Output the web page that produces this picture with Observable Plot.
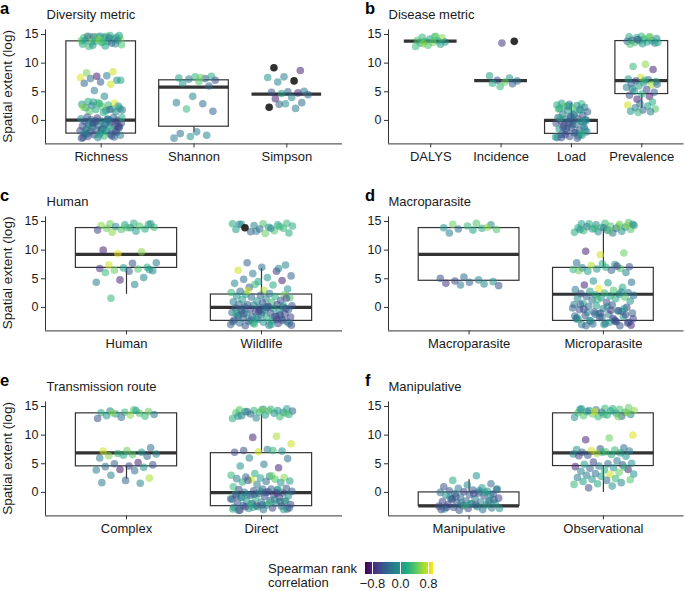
<!DOCTYPE html>
<html><head><meta charset="utf-8">
<script src="https://cdn.jsdelivr.net/npm/d3@7"></script>
<script src="https://cdn.jsdelivr.net/npm/@observablehq/plot@0.6"></script>
<style>
body{margin:0;background:#fff;font-family:"Liberation Sans",Arial,sans-serif;}
#root{position:relative;width:685px;height:591px;overflow:hidden;background:#fff;}
#root > svg, #root > div{position:absolute;}
</style></head><body><div id="root"></div><script>
// ---------- DATA: [spatial extent (log), Spearman rank correlation]; null = no correlation ----------
const diversityCats = ["Richness", "Shannon", "Simpson"];
const richness = [[14.7,0.4],[14.6,0.5],[14.5,0.1],[14.7,-0.1],[14.4,0.3],[14.8,0.2],[14.6,-0.4],[14.3,0.6],[14.5,0.0],[14.7,-0.3],[14.2,0.2],[14.6,0.3],[13.9,0.4],[13.8,0.1],[13.7,0.5],[14.0,-0.2],[13.6,0.3],[13.9,0.0],[13.5,-0.5],[13.8,0.2],[13.2,0.4],[13.0,0.1],[12.9,0.3],[13.4,-0.1],[14.1,0.6],[13.3,0.2],[14.4,-0.2],[13.1,0.0],[14.8,0.1],[13.7,0.3],
[8.3,0.55],[8.5,0.8],[7.7,-0.85],[7.5,0.85],[7.8,-0.2],[7.3,-0.3],[7.0,0.0],[6.7,-0.45],[6.5,-0.35],[6.3,0.8],[5.2,-0.2],[7.0,0.15],
[4.2,-0.1],[3.3,0.2],[3.0,0.85],[3.1,0.4],[2.8,0.0],[2.7,0.3],[2.6,-0.2],[2.5,0.1],[2.4,0.5],[2.2,-0.1],[2.0,0.3],[1.9,0.2],[1.8,-0.3],[1.7,0.0],[1.6,0.4],[1.5,-0.1],[2.9,0.2],[2.3,0.6],[1.9,-0.4],[3.2,0.1],[2.1,0.0],[1.4,0.2],
[0.6,-0.5],[0.5,-0.3],[0.4,-0.6],[0.3,-0.1],[0.2,-0.5],[0.1,-0.4],[0.0,-0.6],[-0.1,-0.2],[-0.2,-0.5],[-0.3,-0.7],[-0.4,-0.3],[-0.5,-0.5],[-0.6,0.0],[-0.7,-0.4],[-0.8,-0.6],[-0.9,-0.2],[-1.0,-0.5],[-1.1,0.1],[-1.2,-0.4],[-1.3,-0.6],[-1.4,-0.3],[-1.5,-0.5],[-1.6,0.2],[-1.7,-0.4],[-1.8,-0.5],[-1.9,-0.1],[-2.0,-0.6],[-2.1,-0.3],[-2.2,-0.5],[-2.3,0.0],[-2.4,-0.4],[-2.5,-0.6],[-2.6,-0.2],[-2.7,0.3],[-2.8,-0.5],[-2.9,-0.3],[-3.0,-0.1],[-3.1,-0.4],[0.2,-0.2],[-0.4,0.1],[-1.0,-0.7],[-1.6,-0.5],[-2.2,-0.2],[-2.7,-0.5],[-0.1,-0.5],[0.5,0.2],[-0.7,-0.3],[-1.3,0.0],[-1.9,-0.6],[-2.5,0.2],[-3.0,-0.6],[0.0,-0.3],[-0.5,-0.6],[-1.1,-0.5],[-1.8,0.1],[-2.4,-0.3]];
const shannon = [[7.7,0.2],[7.6,0.3],[7.4,0.1],[7.3,-0.4],[7.2,-0.2],[7.0,-0.5],[6.8,0.4],[6.5,0.0],[6.0,-0.3],[4.2,-0.1],[3.1,-0.2],[2.9,-0.3],[2.0,0.3],[1.6,-0.4],[-2.0,-0.2],[-2.3,-0.3],[-2.6,-0.1],[-2.8,0.0],[-3.1,-0.2],[7.5,0.5]];
const simpson = [[9.2,null],[8.7,-0.8],[7.6,-0.2],[7.5,0.0],[6.9,null],[6.7,-0.1],[5.1,-0.2],[5.0,-0.4],[4.9,-0.5],[4.8,-0.7],[4.7,0.1],[4.5,-0.3],[4.0,-0.1],[3.8,-0.8],[3.1,-0.3],[2.9,0.0],[2.3,null],[2.1,-0.2],[2.8,-0.4]];
// box stats per category: [lower whisker, q1, median, q3, upper whisker]
const diversityStats = [[-2.3,-2.3,0.05,13.8,13.8],[-2.05,-1.1,5.8,7.0,7.0],[4.6,4.6,4.6,4.6,4.6]];

const diseaseCats = ["DALYS", "Incidence", "Load", "Prevalence"];
const dalys = [[14.6,0.5],[14.5,0.3],[14.4,0.6],[14.2,0.1],[14.0,0.4],[13.9,0.2],[13.8,0.3],[13.7,0.0],[13.6,0.5],[13.5,0.2],[13.3,0.1],[13.1,0.4],[12.9,0.3],[14.7,0.4],[13.4,0.6]];
const incidence = [[13.8,null],[13.5,-0.7],[7.8,0.1],[7.4,0.0],[7.0,-0.5],[6.9,-0.3],[6.7,0.5],[6.5,0.2],[6.4,-0.4],[5.9,0.3]];
const load = [[3.0,0.1],[2.9,0.3],[2.8,-0.1],[2.7,0.2],[2.6,0.0],[2.4,0.5],[2.3,-0.2],[2.2,0.4],[2.1,0.1],[1.9,-0.3],[1.7,0.0],[1.5,-0.4],[1.3,0.2],[1.1,-0.2],[0.9,-0.5],[0.7,0.0],[0.5,-0.4],[0.3,-0.6],[0.2,-0.2],[0.1,-0.5],[0.0,-0.3],[-0.1,-0.6],[-0.2,0.1],[-0.3,-0.4],[-0.5,-0.5],[-0.7,-0.2],[-0.9,-0.6],[-1.1,-0.3],[-1.3,-0.5],[-1.5,0.0],[-1.7,-0.4],[-1.9,-0.6],[-2.0,-0.2],[-2.2,-0.5],[-2.4,-0.3],[-2.6,0.1],[-2.8,-0.5],[-3.0,-0.2],[-3.1,-0.4],[-2.5,-0.6],[-1.6,-0.1],[-0.8,-0.4],[0.4,0.2],[1.8,0.1],[2.5,-0.1],[-2.9,0.0],[-2.1,-0.4],[-1.2,-0.6],[-0.4,-0.2],[0.6,-0.5],[2.0,0.3],[-2.7,-0.3],[-1.4,-0.4],[0.0,0.0],[1.0,-0.3],[-3.0,-0.5],[-2.3,0.2],[-0.6,-0.5]];
const prevalence = [[14.7,0.3],[14.6,0.2],[14.5,0.4],[14.4,0.1],[14.3,-0.1],[14.2,0.3],[14.0,-0.4],[13.9,0.0],[13.9,0.2],[13.8,-0.3],[13.7,0.1],[13.6,0.3],[13.5,-0.2],[13.4,0.0],[13.3,0.4],[14.6,0.5],[14.1,-0.5],[13.6,0.2],
[9.8,0.6],[9.4,0.3],[8.9,-0.8],[7.5,0.8],[7.2,0.0],[7.1,-0.3],[6.9,-0.5],[6.8,0.2],[6.6,0.0],[6.4,-0.4],[6.2,0.7],[6.0,0.1],[5.8,-0.2],[5.4,-0.6],[5.1,0.0],[4.9,-0.4],[4.6,0.2],[4.4,-0.5],[4.2,-0.8],[3.7,-0.8],[6.3,-0.3],[7.0,0.3],[5.5,-0.1],
[3.2,0.2],[2.9,-0.3],[2.7,0.8],[2.5,0.1],[2.2,-0.2],[2.0,0.4],[1.8,-0.4],[1.6,0.0],[1.5,-0.2],[1.4,0.3]];
const diseaseStats = [[13.85,13.85,13.85,13.85,13.85],[6.95,6.95,6.95,6.95,6.95],[-2.35,-2.35,0.0,0.05,3.0],[2.1,4.6,6.95,13.85,13.85]];

const humanCats = ["Human", "Wildlife"];
const human = [[14.7,0.2],[14.6,0.5],[14.5,0.3],[14.4,0.1],[14.3,0.6],[14.2,0.4],[14.1,-0.1],[14.0,0.3],[13.9,0.0],[13.8,0.5],[13.7,0.2],[13.6,0.4],[13.5,-0.6],[13.3,0.1],[13.1,0.6],[14.6,0.0],[13.9,0.4],
[10.0,-0.8],[9.7,0.6],[9.4,0.9],[7.8,-0.2],[7.7,-0.5],[7.4,0.8],[7.0,0.2],[6.9,0.1],[6.8,-0.7],[6.7,0.4],[6.5,0.5],[6.4,-0.1],[6.3,-0.4],[6.1,0.3],[5.2,-0.1],[4.8,-0.8],[4.4,-0.2],[4.0,-0.1],[1.6,0.3],[6.6,0.0]];
const wildlife = [[14.7,0.3],[14.6,0.4],[14.5,-0.2],[14.4,0.1],[14.3,-0.1],[14.2,0.2],[14.0,0.0],[13.9,null],[13.8,0.3],[13.7,-0.3],[13.6,0.1],[13.4,0.4],[13.2,-0.4],[13.0,0.2],[12.9,0.5],[14.5,0.0],[14.1,0.3],[13.3,-0.2],[14.6,0.2],[13.8,-0.1],
[7.8,-0.4],[7.4,-0.1],[7.0,-0.3],[6.5,0.8],[6.3,-0.7],[5.9,-0.2],[5.5,-0.4],[5.2,0.0],[4.9,-0.3],[4.7,-0.8],[4.5,0.1],[4.2,-0.1],[3.9,0.2],[3.5,-0.4],[3.2,0.0],[3.0,0.7],[2.8,-0.3],[6.8,-0.1],[4.0,0.3],
[2.6,0.3],[2.4,-0.2],[2.3,0.1],[2.2,0.5],[2.1,-0.4],[2.0,0.0],[1.9,0.2],[1.8,-0.3],[1.7,0.4],[1.5,-0.1],[1.4,0.1],[1.2,-0.5],[1.1,0.0],[1.0,-0.2],[0.9,0.3],[2.9,0.8],[1.6,-0.6],
[0.8,-0.5],[0.6,-0.3],[0.5,-0.6],[0.4,-0.2],[0.3,-0.5],[0.2,-0.7],[0.1,-0.4],[0.0,-0.6],[0.0,-0.2],[-0.1,-0.5],[-0.2,0.0],[-0.3,-0.6],[-0.4,-0.4],[-0.5,-0.2],[-0.6,-0.5],[-0.7,0.1],[-0.8,-0.6],[-0.9,-0.3],[-1.0,-0.5],[-1.1,-0.1],[-1.2,-0.6],[-1.3,-0.4],[-1.4,0.0],[-1.5,-0.5],[-1.6,-0.3],[-1.7,-0.6],[-1.8,0.2],[-1.9,-0.4],[-2.0,-0.5],[-2.1,-0.2],[-2.2,-0.6],[-2.3,0.1],[-2.4,-0.4],[-2.5,-0.5],[-2.6,0.0],[-2.7,-0.3],[-2.8,-0.6],[-2.9,0.3],[-3.0,-0.4],[-3.1,-0.2],[-3.2,-0.5],[0.3,0.1],[-0.4,-0.7],[-1.0,0.2],[-1.6,-0.5],[-2.2,-0.3],[-2.8,-0.1],[0.1,-0.3],[-0.6,-0.4],[-1.3,-0.6],[-1.9,0.0],[-2.5,-0.4],[-3.0,0.1],[0.5,-0.4],[-0.2,-0.5],[-0.9,-0.1],[-1.5,-0.3],[-2.1,-0.6],[-2.7,0.2],[-3.1,-0.5],[0.0,-0.4],[-1.1,-0.4],[-2.3,-0.5],[-0.7,-0.6]];
const humanStats = [[2.3,6.9,9.25,13.85,13.85],[-2.35,-2.35,0.0,2.25,6.8]];

const parasiteCats = ["Macroparasite", "Microparasite"];
const macroparasite = [[14.7,0.4],[14.5,0.5],[14.4,-0.1],[14.2,0.3],[13.9,0.0],[13.8,0.2],[13.7,-0.3],[13.6,0.4],[13.5,0.1],[13.0,-0.2],[14.0,0.6],
[5.3,-0.3],[5.1,-0.5],[4.8,-0.1],[4.6,-0.6],[4.5,0.0],[4.4,-0.4],[4.2,-0.7],[4.1,-0.1],[3.9,-0.2],[3.8,-0.5]];
const microparasite = [[14.8,0.4],[14.7,0.3],[14.6,0.1],[14.5,0.5],[14.4,-0.1],[14.3,0.2],[14.2,0.4],[14.1,-0.3],[14.0,0.0],[14.0,0.3],[13.9,0.2],[13.8,-0.4],[13.7,0.1],[13.6,0.4],[13.5,-0.2],[13.4,0.3],[13.3,0.0],[13.2,-0.1],[13.1,0.2],[13.0,-0.3],[14.6,0.2],[14.3,0.6],[13.9,-0.2],[13.6,0.0],[14.1,0.5],[13.8,0.3],[14.5,-0.1],[13.4,0.4],
[9.8,-0.8],[9.5,0.5],[9.2,0.8],[7.8,-0.3],[7.5,0.0],[7.3,0.7],[7.1,-0.5],[7.0,0.2],[6.9,-0.2],[6.8,0.4],[6.7,0.0],[6.6,0.3],[6.5,-0.4],[6.3,0.1],[6.1,-0.1],[7.6,0.2],[6.4,0.5],[7.2,-0.6],
[4.6,0.0],[4.4,-0.3],[4.3,0.1],[3.9,-0.8],[3.5,0.2],[3.3,0.9],[3.1,-0.2],[3.0,0.4],
[2.8,0.1],[2.6,-0.2],[2.5,0.3],[2.4,-0.5],[2.3,0.0],[2.2,0.2],[2.1,-0.3],[2.0,0.1],[1.9,-0.4],[1.8,0.4],[1.7,0.0],[1.6,-0.1],[1.5,0.2],[1.3,-0.3],[1.1,0.0],[0.9,-0.5],[0.7,0.1],[2.7,-0.1],[1.4,0.3],[0.5,-0.2],
[0.4,-0.5],[0.2,-0.3],[0.0,-0.6],[-0.2,-0.2],[-0.4,-0.5],[-0.6,0.0],[-0.8,-0.6],[-1.0,-0.4],[-1.2,-0.2],[-1.4,-0.5],[-1.6,0.1],[-1.8,-0.6],[-2.0,-0.3],[-2.2,-0.5],[-2.4,0.0],[-2.6,-0.4],[-2.8,-0.6],[-3.0,-0.2],[-3.2,-0.5],[0.3,0.1],[-0.1,-0.4],[-0.5,-0.7],[-0.9,-0.1],[-1.3,-0.6],[-1.7,-0.3],[-2.1,0.2],[-2.5,-0.5],[-2.9,-0.3],[-3.1,-0.8],[0.1,-0.2],[-0.3,-0.6],[-0.7,-0.3],[-1.1,0.0],[-1.5,-0.4],[-1.9,-0.5],[-2.3,-0.1],[-2.7,-0.6],[-3.0,0.0],[0.5,-0.4],[-0.6,-0.5],[-1.2,-0.3],[-2.0,-0.6],[-2.6,0.1],[-3.2,-0.4],[-0.2,0.0],[-1.0,-0.5],[-1.8,-0.2],[-2.4,-0.6]];
const parasiteStats = [[4.65,4.65,9.25,13.85,13.85],[-2.35,-2.35,2.3,6.9,13.75]];

const transmissionCats = ["Complex", "Direct"];
const complex = [[14.4,0.4],[14.2,-0.1],[14.1,0.5],[14.0,0.3],[13.9,0.2],[13.8,0.4],[13.7,0.1],[13.6,-0.2],[13.5,0.6],[13.4,0.0],[13.3,0.3],[13.1,-0.3],[12.9,-0.5],[14.3,0.1],[13.9,0.6],
[7.8,-0.3],[7.3,0.5],[7.2,0.8],[7.0,0.0],[6.8,0.3],[6.7,-0.1],[6.6,0.4],[6.4,0.6],[6.3,-0.4],[6.5,0.2],[6.0,-0.2],
[5.2,-0.8],[5.0,-0.4],[4.8,-0.5],[4.6,-0.6],[4.5,-0.3],[4.4,0.0],[4.0,-0.9],[3.9,-0.2],[3.8,-0.3],
[3.0,-0.1],[2.5,0.7],[2.1,-0.4],[1.7,-0.2],[1.6,-0.1]];
const direct = [[14.6,0.1],[14.5,-0.2],[14.4,0.4],[14.3,0.0],[14.3,0.3],[14.2,-0.4],[14.2,0.5],[14.1,0.2],[14.0,-0.1],[14.0,0.3],[13.9,0.4],[13.8,0.0],[13.7,-0.3],[13.6,0.2],[13.5,0.1],[13.4,-0.2],[13.2,0.3],[13.0,-0.1],[12.9,0.2],[14.5,0.3],[14.1,-0.3],[13.8,0.4],[14.4,0.5],[13.3,0.0],
[9.8,0.7],[9.6,-0.8],[8.5,0.8],[7.5,-0.2],[7.3,-0.5],[7.2,0.0],[7.1,0.8],[7.0,-0.6],[7.3,0.3],
[6.0,-0.1],[5.9,-0.3],[4.9,-0.2],[4.6,0.0],[4.3,-0.8],[3.3,0.2],[3.0,0.3],[2.8,-0.1],[2.7,-0.4],[2.6,0.6],[2.5,0.1],[2.4,-0.2],[2.3,0.4],[2.2,0.8],[2.0,0.1],[1.9,-0.3],[1.8,0.2],[1.7,0.0],[1.4,-0.2],[1.0,0.3],[2.9,0.5],[2.1,-0.5],
[0.7,-0.5],[0.6,-0.3],[0.5,-0.6],[0.4,0.0],[0.3,-0.5],[0.2,-0.4],[0.1,-0.6],[0.0,-0.2],[-0.1,-0.5],[-0.2,-0.3],[-0.3,0.1],[-0.4,-0.6],[-0.5,-0.4],[-0.6,-0.1],[-0.7,-0.5],[-0.8,-0.3],[-0.9,-0.6],[-1.0,0.2],[-1.2,-0.4],[-1.4,-0.5],[-1.5,0.0],[-1.6,-0.6],[-1.7,-0.2],[-1.8,-0.5],[-1.9,0.1],[-2.0,-0.4],[-2.1,-0.6],[-2.2,0.0],[-2.3,-0.3],[-2.4,-0.5],[-2.5,0.2],[-2.6,-0.4],[-2.7,-0.6],[-2.8,0.0],[-2.9,-0.5],[-3.0,-0.3],[-3.1,-0.8],[0.5,0.1],[-0.3,-0.5],[-1.1,-0.3],[-1.8,0.3],[-2.5,-0.6],[-3.0,0.1],[0.2,-0.2],[-0.6,-0.6],[-1.3,-0.1],[-2.0,0.2],[-2.7,-0.4],[0.0,-0.5],[-0.9,0.0],[-1.6,-0.4],[-2.3,-0.6],[-2.9,0.2],[0.6,-0.4],[-0.4,-0.2],[-1.4,0.2],[-2.2,-0.4],[-3.1,-0.2],[-0.1,-0.7],[-2.6,0.1]];
const transmissionStats = [[2.3,4.55,6.9,13.8,13.8],[-2.4,-2.4,-0.05,6.85,13.55]];

const manipulativeCats = ["Manipulative", "Observational"];
const manipulative = [[2.9,0.0],[2.1,0.2],[1.5,-0.3],[1.3,-0.1],[1.0,-0.5],[0.8,0.1],[0.7,-0.2],[0.5,-0.6],[0.4,-0.4],[0.3,-0.5],[0.2,0.0],[0.1,-0.6],[0.0,-0.3],[-0.1,-0.5],[-0.2,-0.2],[-0.3,-0.6],[-0.4,-0.4],[-0.5,0.0],[-0.6,-0.5],[-0.8,-0.3],[-1.0,-0.6],[-1.1,-0.2],[-1.2,-0.5],[-1.4,0.1],[-1.5,-0.4],[-1.6,-0.6],[-1.7,-0.2],[-1.8,-0.5],[-1.9,0.0],[-2.0,-0.4],[-2.1,-0.6],[-2.2,0.2],[-2.3,-0.3],[-2.4,-0.5],[-2.5,0.0],[-2.6,-0.4],[-2.7,-0.2],[-2.8,-0.6],[-2.9,0.1],[-3.0,-0.3],[-3.1,-0.5],[0.6,-0.1],[-0.2,-0.6],[-0.9,0.0],[-1.6,-0.3],[-2.3,0.3],[-3.0,-0.6],[0.3,-0.2],[-0.7,-0.5],[-1.3,-0.4],[-2.0,0.1],[-2.6,-0.6],[0.0,0.1],[-1.8,-0.2],[-2.8,0.0],[-2.2,-0.5],[-1.1,-0.5],[-0.4,-0.1]];
const observational = [[14.8,0.5],[14.7,0.3],[14.6,0.1],[14.5,0.4],[14.4,-0.2],[14.3,0.6],[14.2,0.2],[14.1,0.0],[14.0,0.3],[14.0,-0.3],[13.9,0.4],[13.8,0.1],[13.7,0.5],[13.6,-0.1],[13.5,0.2],[13.4,0.4],[13.3,-0.4],[13.2,0.3],[13.1,0.0],[14.6,0.2],[14.3,-0.1],[13.9,0.6],[13.6,0.3],[14.5,0.0],[13.2,0.5],[14.1,0.8],
[10.0,0.85],[9.5,0.5],[9.2,-0.8],[7.8,-0.3],[7.6,-0.5],[7.5,0.0],[7.4,0.3],[7.3,0.8],[7.2,-0.2],[7.1,0.4],[7.0,-0.4],[6.9,0.1],[6.8,0.7],[6.7,-0.1],[6.6,0.2],[6.5,-0.5],[6.3,0.0],[7.0,0.3],[6.4,-0.6],
[5.5,-0.2],[5.3,-0.6],[5.1,0.0],[5.0,-0.3],[4.9,0.1],[4.8,-0.5],[4.6,-0.2],[4.5,-0.8],[4.3,0.0],[4.2,-0.4],[4.0,-0.8],[3.9,0.2],[3.7,-0.1],[3.5,0.5],[3.3,-0.3],[3.2,0.0],[3.1,0.8],[3.0,-0.2],[4.4,0.3],
[2.8,0.1],[2.6,-0.2],[2.4,0.3],[2.3,0.0],[2.2,0.4],[2.1,-0.3],[1.9,0.1],[1.7,-0.1],[1.5,0.2],[1.4,0.3],[1.1,0.0],[0.8,-0.5]];
const manipulativeStats = [[-2.35,-2.35,-2.35,0.0,2.2],[0.0,4.6,6.9,13.8,13.8]];

const yTicks = [0, 5, 10, 15];
const legendTicks = [-0.8, 0.0, 0.8];
const colorDomain = [-1.0, 0.95];

// ---------- LAYOUT ----------
const FONT = '"Liberation Sans", Arial, Helvetica, sans-serif';
const rowTop = [0, 186.5, 372];
const colLeft = [0, 340];
const panels = [
  {letter: "a", title: "Diversity metric", cats: diversityCats, points: [richness, shannon, simpson], stats: diversityStats, row: 0, col: 0},
  {letter: "b", title: "Disease metric", cats: diseaseCats, points: [dalys, incidence, load, prevalence], stats: diseaseStats, row: 0, col: 1},
  {letter: "c", title: "Human", cats: humanCats, points: [human, wildlife], stats: humanStats, row: 1, col: 0},
  {letter: "d", title: "Macroparasite", cats: parasiteCats, points: [macroparasite, microparasite], stats: parasiteStats, row: 1, col: 1},
  {letter: "e", title: "Transmission route", cats: transmissionCats, points: [complex, direct], stats: transmissionStats, row: 2, col: 0},
  {letter: "f", title: "Manipulative", cats: manipulativeCats, points: [manipulative, observational], stats: manipulativeStats, row: 2, col: 1}
];

const root = document.getElementById("root");
const Y0 = -4.1, Y1 = 15.8;
const MT = 29.4, MB = 42.6, PH = 186;

for (const p of panels) {
  const n = p.cats.length;
  const pts = [], na = [];
  p.points.forEach((arr, ci) => arr.forEach(([y, r], i) => {
    const off = ((((i + 1) * 0.6180339887 + ci * 0.29) % 1) - 0.5) * 0.46;
    (r == null ? na : pts).push({x: ci + 1 + off, y, r});
  }));
  const boxes = p.stats.map(([lo, q1, med, q3, hi], i) => ({x: i + 1, lo, q1, med, q3, hi}));
  const stroke = "#333333";
  const chart = Plot.plot({
    width: 345, height: PH,
    marginLeft: p.col ? 48 : 45, marginRight: p.col ? 1.5 : 3,
    marginTop: MT, marginBottom: MB,
    x: {type: "linear", domain: [0.4, n + 0.6]},
    y: {domain: [Y0, Y1]},
    color: {type: "linear", scheme: "viridis", domain: colorDomain},
    style: {fontFamily: FONT, fontSize: "13px", color: "#1a1a1a", background: "transparent", overflow: "visible"},
    marks: [
      Plot.rect(boxes, {x1: d => d.x - 0.375, x2: d => d.x + 0.375, y1: "q1", y2: "q3", fill: "none", stroke, strokeWidth: 1.2}),
      Plot.ruleX(boxes, {x: "x", y1: "q3", y2: "hi", stroke, strokeWidth: 1.2}),
      Plot.ruleX(boxes, {x: "x", y1: "lo", y2: "q1", stroke, strokeWidth: 1.2}),
      Plot.ruleY(boxes, {y: "med", x1: d => d.x - 0.375, x2: d => d.x + 0.375, stroke, strokeWidth: 3.2}),
      Plot.dot(pts, {x: "x", y: "y", fill: "r", r: 3.8, fillOpacity: 0.55}),
      Plot.dot(na, {x: "x", y: "y", fill: "#1a1a1a", r: 3.8, fillOpacity: 0.9}),
      Plot.ruleX([0.4], {stroke, strokeWidth: 1}),
      Plot.ruleY([Y0], {stroke, strokeWidth: 1}),
      Plot.axisX(d3.range(1, n + 1), {tickFormat: i => p.cats[i - 1], tickSize: 4, tickPadding: 4, fontSize: 13, label: null, stroke}),
      Plot.axisY(yTicks, {tickSize: 4, tickPadding: 3, fontSize: 12.5, label: null, stroke})
    ]
  });
  chart.style.left = colLeft[p.col] + "px";
  chart.style.top = rowTop[p.row] + "px";
  root.appendChild(chart);
}

// ---------- TEXT OVERLAY (letters, titles, y labels, legend title) ----------
const svg = d3.select(root).append("svg")
  .attr("width", 685).attr("height", 591)
  .style("left", "0px").style("top", "0px")
  .style("font-family", FONT).style("pointer-events", "none");
for (const p of panels) {
  const top = rowTop[p.row], left = colLeft[p.col];
  svg.append("text").attr("x", p.col ? 365 : 0).attr("y", top + 14)
    .attr("font-size", 16.5).attr("font-weight", "bold").attr("fill", "#000").text(p.letter);
  svg.append("text").attr("x", left + (p.col ? 48.5 : 46.5)).attr("y", top + 19)
    .attr("font-size", 13).attr("fill", "#1a1a1a").text(p.title);
  if (p.col === 0) {
    const cy = top + MT + (PH - MT - MB) / 2;
    svg.append("text").attr("transform", `translate(11.5,${cy}) rotate(-90)`)
      .attr("text-anchor", "middle").attr("font-size", 13.5).attr("fill", "#1a1a1a")
      .text("Spatial extent (log)");
  }
}
svg.append("text").attr("x", 268).attr("y", 572.5).attr("font-size", 13).attr("fill", "#1a1a1a").text("Spearman rank");
svg.append("text").attr("x", 268).attr("y", 586.5).attr("font-size", 13).attr("fill", "#1a1a1a").text("correlation");

// ---------- COLOR LEGEND ----------
const leg = Plot.legend({
  color: {type: "linear", scheme: "viridis", domain: colorDomain},
  label: null,
  width: 84, height: 34, marginLeft: 8, marginRight: 8, marginTop: 2, marginBottom: 20,
  ticks: legendTicks, tickSize: 2, tickFormat: d3.format(".1f"),
  style: {fontFamily: FONT, fontSize: "13px", color: "#1a1a1a", background: "transparent", overflow: "visible"}
});
leg.style.position = "absolute";
leg.style.left = "357px";
leg.style.top = "560px";
root.appendChild(leg);
leg.querySelectorAll(".tick line").forEach(l => l.setAttribute("stroke", "white"));
</script></body></html>
